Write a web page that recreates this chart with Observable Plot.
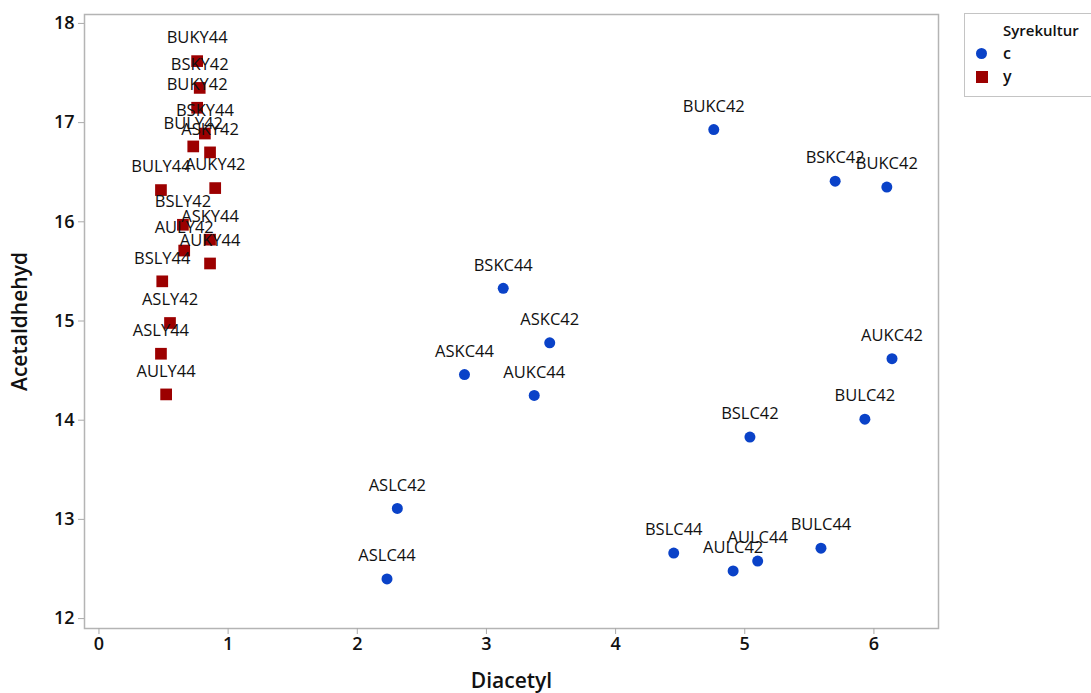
<!DOCTYPE html>
<html>
<head>
<meta charset="utf-8">
<script src="https://cdn.jsdelivr.net/npm/d3@7"></script>
<script src="https://cdn.jsdelivr.net/npm/@observablehq/plot@0.6"></script>
<style>
  body { margin: 0; background: #fff; }
  #wrap { position: relative; width: 1091px; height: 693px; overflow: hidden; font-family: "Open Sans", sans-serif; }
  #chart svg { display: block; }
  .legend { position: absolute; left: 964px; top: 13px; width: 150px; height: 84px; border: 1.5px solid #c4c4c4; box-sizing: border-box; background: #fff; }
  .legend .title { position: absolute; left: 38px; top: 6px; font-size: 15px; font-weight: 600; color: #111; }
  .legend .row { position: absolute; left: 38px; font-size: 16px; font-weight: 600; color: #111; line-height: 20px; }
  .legend .sw { position: absolute; }
</style>
</head>
<body>
<div id="wrap">
  <div id="chart"></div>
  <div class="legend" id="legend"></div>
</div>
<script>
// Sample names, diacetyl and acetaldehyde readings, and starter culture group
const labels = [
  "BUKC42", "BSKC42", "BUKC42", "BSKC44", "ASKC42", "ASKC44", "AUKC44", "AUKC42",
  "BULC42", "BSLC42", "ASLC42", "ASLC44", "BSLC44", "AULC42", "AULC44", "BULC44",
  "BUKY44", "BSKY42", "BUKY42", "BSKY44", "BULY42", "ASKY42", "BULY44", "AUKY42",
  "BSLY42", "ASKY44", "AULY42", "AUKY44", "BSLY44", "ASLY42", "ASLY44", "AULY44"
];
const diacetyl = [
  4.76, 5.70, 6.10, 3.13, 3.49, 2.83, 3.37, 6.14,
  5.93, 5.04, 2.31, 2.23, 4.45, 4.91, 5.10, 5.59,
  0.76, 0.78, 0.76, 0.82, 0.73, 0.86, 0.48, 0.90,
  0.65, 0.86, 0.66, 0.86, 0.49, 0.55, 0.48, 0.52
];
const acetaldehyd = [
  16.93, 16.41, 16.35, 15.33, 14.78, 14.46, 14.25, 14.62,
  14.01, 13.83, 13.11, 12.40, 12.66, 12.48, 12.58, 12.71,
  17.62, 17.35, 17.15, 16.89, 16.76, 16.70, 16.32, 16.34,
  15.97, 15.82, 15.71, 15.58, 15.40, 14.98, 14.67, 14.26
];
const syrekultur = [
  "c", "c", "c", "c", "c", "c", "c", "c",
  "c", "c", "c", "c", "c", "c", "c", "c",
  "y", "y", "y", "y", "y", "y", "y", "y",
  "y", "y", "y", "y", "y", "y", "y", "y"
];
const groups = ["c", "y"];
const groupColors = ["#0a42c8", "#9c0000"];
const xTicks = [0, 1, 2, 3, 4, 5, 6];
const yTicks = [12, 13, 14, 15, 16, 17, 18];

const rows = labels.map((name, i) => ({
  name, diacetyl: diacetyl[i], acetaldehyd: acetaldehyd[i], group: syrekultur[i]
}));

const chart = Plot.plot({
  width: 1091,
  height: 693,
  marginLeft: 84,
  marginRight: 153,
  marginTop: 14,
  marginBottom: 65,
  style: { fontFamily: "'Open Sans', sans-serif", background: "#fff", overflow: "visible" },
  x: { domain: [-0.112, 6.5] },
  y: { domain: [11.9, 18.09] },
  color: { domain: groups, range: groupColors },
  marks: [
    Plot.frame({ stroke: "#b4b4b4", strokeWidth: 1.5 }),
    Plot.axisX({
      ticks: xTicks, tickSize: 6, tickPadding: 3, tickFormat: d3.format("d"),
      fontSize: 18, fontWeight: 600, color: "#111",
      label: "Diacetyl", labelAnchor: "center", labelArrow: "none", labelOffset: 59
    }),
    Plot.axisY({
      ticks: yTicks, tickSize: 6, tickPadding: 4, tickFormat: d3.format("d"),
      fontSize: 18, fontWeight: 600, color: "#111",
      label: "Acetaldhehyd", labelAnchor: "center", labelArrow: "none", labelOffset: 72
    }),
    Plot.dot(rows.filter(d => d.group === "c"), {
      x: "diacetyl", y: "acetaldehyd", fill: "group", symbol: "circle", r: 5.5, stroke: "none"
    }),
    Plot.dot(rows.filter(d => d.group === "y"), {
      x: "diacetyl", y: "acetaldehyd", fill: "group", symbol: "square", r: 6.6, stroke: "none"
    }),
    Plot.text(rows, {
      x: "diacetyl", y: "acetaldehyd", text: "name", dy: -23,
      fontSize: 16.5, fill: "#111"
    })
  ]
});
document.getElementById("chart").appendChild(chart);

// tick lines in light grey, axis titles larger
d3.select(chart).selectAll('[aria-label="x-axis tick"], [aria-label="y-axis tick"]')
  .attr("stroke", "#aaaaaa");
d3.select(chart).selectAll('[aria-label="x-axis label"] text, [aria-label="y-axis label"] text')
  .attr("font-size", 21).attr("font-weight", 600);

// legend for the starter culture groups
const legend = document.getElementById("legend");
const title = document.createElement("div");
title.className = "title";
title.textContent = "Syrekultur";
legend.appendChild(title);
groups.forEach((g, i) => {
  const top = 30 + i * 23;
  const sw = document.createElement("div");
  sw.className = "sw";
  if (g === "c") {
    Object.assign(sw.style, { left: "11px", top: (top + 4) + "px", width: "11px", height: "11px", borderRadius: "50%", background: groupColors[i] });
  } else {
    Object.assign(sw.style, { left: "11px", top: (top + 4) + "px", width: "12px", height: "12px", background: groupColors[i] });
  }
  legend.appendChild(sw);
  const row = document.createElement("div");
  row.className = "row";
  row.style.top = (top - 1) + "px";
  row.textContent = g;
  legend.appendChild(row);
});
</script>
</body>
</html>
